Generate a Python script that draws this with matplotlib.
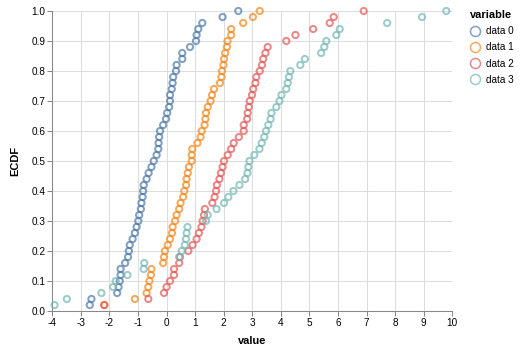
import numpy as np
import matplotlib
matplotlib.use("Agg")
import matplotlib.pyplot as plt
from matplotlib.lines import Line2D

plt.rcParams['font.family'] = ['Liberation Sans', 'DejaVu Sans']
plt.rcParams['axes.unicode_minus'] = False

# ECDF data (50 sorted values per series)
series_names = ['data 0', 'data 1', 'data 2', 'data 3']
colors = ['#4c78a8', '#f58518', '#e45756', '#72b7b2']

data0 = [-2.69, -2.63, -1.73, -1.68, -1.64, -1.61, -1.61, -1.45, -1.35, -1.32,
         -1.29, -1.19, -1.11, -1.05, -0.99, -0.96, -0.90, -0.88, -0.84, -0.82,
         -0.80, -0.70, -0.63, -0.53, -0.45, -0.35, -0.29, -0.28, -0.26, -0.23,
         -0.12, -0.02, 0.02, 0.09, 0.12, 0.12, 0.18, 0.21, 0.23, 0.33,
         0.35, 0.55, 0.55, 0.82, 1.03, 1.05, 1.11, 1.25, 1.96, 2.51]
data1 = [-2.18, -1.11, -0.70, -0.64, -0.60, -0.55, -0.53, -0.12, -0.09, -0.06,
         0.04, 0.12, 0.19, 0.21, 0.30, 0.35, 0.44, 0.49, 0.58, 0.62,
         0.68, 0.70, 0.74, 0.78, 0.88, 0.88, 0.90, 1.08, 1.19, 1.23,
         1.33, 1.36, 1.38, 1.44, 1.54, 1.59, 1.66, 1.87, 1.92, 1.94,
         1.99, 2.01, 2.05, 2.11, 2.13, 2.26, 2.26, 2.68, 3.02, 3.26]
data2 = [-2.18, -0.64, -0.09, 0.00, 0.12, 0.26, 0.26, 0.44, 0.47, 0.76,
         0.91, 1.05, 1.13, 1.22, 1.26, 1.31, 1.34, 1.60, 1.68, 1.73,
         1.76, 1.85, 1.90, 1.96, 2.01, 2.14, 2.26, 2.35, 2.53, 2.70,
         2.70, 2.82, 2.84, 2.88, 2.91, 2.99, 3.03, 3.11, 3.14, 3.26,
         3.34, 3.38, 3.46, 3.54, 4.19, 4.51, 5.13, 5.71, 5.85, 6.90]
data3 = [-3.92, -3.49, -2.28, -1.87, -1.78, -1.37, -0.80, -0.78, 0.44, 0.53,
         0.64, 0.68, 0.70, 0.73, 1.38, 1.44, 1.75, 2.01, 2.16, 2.34,
         2.55, 2.75, 2.83, 2.86, 2.90, 3.07, 3.25, 3.33, 3.42, 3.48,
         3.56, 3.64, 3.67, 3.84, 3.95, 4.02, 4.19, 4.24, 4.28, 4.33,
         4.68, 4.84, 5.41, 5.52, 5.59, 5.94, 6.06, 7.72, 8.94, 9.79]

x_ticks = list(range(-4, 11))
y_ticks = [round(0.1 * i, 1) for i in range(11)]

fig = plt.figure(figsize=(5.2, 3.51), dpi=100)
ax = fig.add_axes([52.3 / 520, 40 / 351, 400 / 520, 300 / 351])

for vals, color in zip([data0, data1, data2, data3], colors):
    v = np.sort(np.array(vals))
    ecdf = np.arange(1, len(v) + 1) / len(v)
    ax.scatter(v, ecdf, s=20, facecolors='none', edgecolors=color,
               linewidths=1.45, alpha=0.7, zorder=3, clip_on=False)

ax.set_xlim(-4, 10)
ax.set_ylim(0, 1)
ax.set_xticks(x_ticks)
ax.set_xticklabels([str(t) for t in x_ticks])
ax.set_yticks(y_ticks)
ax.set_yticklabels([f'{t:.1f}' for t in y_ticks])

ax.grid(True, color='#dddddd', linewidth=0.75, zorder=0)
ax.set_axisbelow(True)
for side in ['top', 'right']:
    ax.spines[side].set_visible(False)
for side in ['left', 'bottom']:
    ax.spines[side].set_color('#888888')
    ax.spines[side].set_linewidth(0.75)
ax.tick_params(axis='both', length=3.6, width=0.75, color='#888888',
               labelsize=7.2, labelcolor='#000000', pad=1.5)

ax.set_xlabel('value', fontsize=7.9, fontweight='bold', labelpad=6)
ax.set_ylabel('ECDF', fontsize=7.9, fontweight='bold', labelpad=8)

# legend on the right, open circles like the points
handles = [Line2D([0], [0], marker='o', linestyle='none', markersize=7.2,
                  markerfacecolor='none', markeredgecolor=c,
                  markeredgewidth=1.1, alpha=0.7) for c in colors]
leg = fig.legend(handles, series_names, loc='upper left',
                 bbox_to_anchor=(470 / 520, 1 - 10 / 351), frameon=False,
                 title='variable', alignment='left', fontsize=7.2,
                 title_fontproperties={'weight': 'bold', 'size': 7.9},
                 handletextpad=0.6, labelspacing=0.62, handlelength=1.0,
                 borderaxespad=0, borderpad=0)

fig.savefig('out.png', dpi=100)
